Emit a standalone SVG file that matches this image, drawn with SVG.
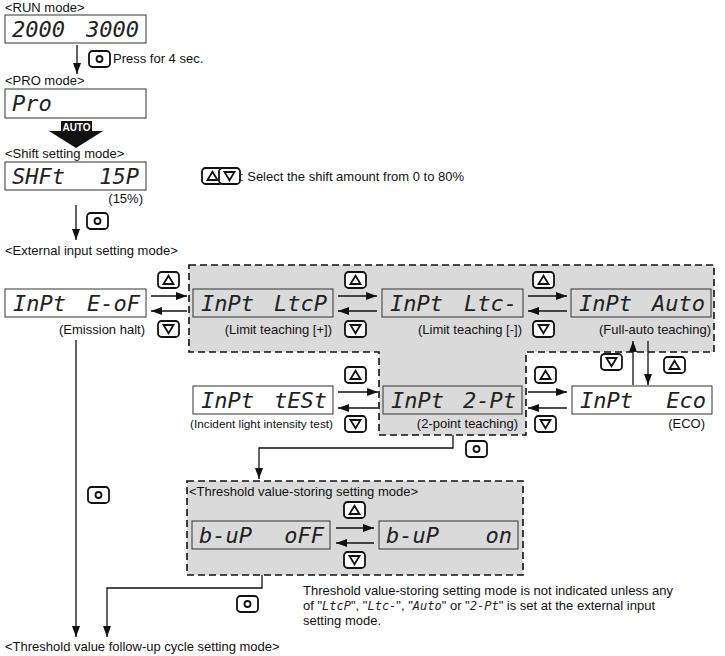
<svg xmlns="http://www.w3.org/2000/svg" width="725" height="656" viewBox="0 0 725 656">
<defs>
<style>
.lbl{font-family:"Liberation Sans",Arial,sans-serif;font-size:13px;fill:#111}
.seg{font-family:"DejaVu Sans Mono",monospace;font-style:italic;font-size:22px;fill:#222}
.segs{font-family:"DejaVu Sans Mono",monospace;font-style:italic;font-size:12px;fill:#222}
.disp{fill:#fff;stroke:#333;stroke-width:1}
.dispg{fill:#dadada;stroke:#333;stroke-width:1}
.region{fill:#dadada;stroke:#111;stroke-width:1.6;stroke-dasharray:7 4}
.ln{fill:none;stroke:#111;stroke-width:1.3}
.key{fill:#fff;stroke:#111;stroke-width:1.8}
.sym{fill:none;stroke:#111;stroke-width:1.8}
</style>
<marker id="ah" viewBox="0 0 11 8" refX="11" refY="4" markerWidth="11" markerHeight="8" markerUnits="userSpaceOnUse" orient="auto"><path d="M0,0 L11,4 L0,8 z" fill="#111"/></marker>
<g id="kO"><rect class="key" x="0" y="0" width="21" height="16" rx="3.5"/><circle class="sym" cx="10.5" cy="8" r="3"/></g>
<g id="kU"><rect class="key" x="0" y="0" width="21" height="16" rx="3.5"/><path class="sym" d="M10.5,3.8 L15.5,12 L5.5,12 z"/></g>
<g id="kD"><rect class="key" x="0" y="0" width="21" height="16" rx="3.5"/><path class="sym" d="M5.5,4 L15.5,4 L10.5,12.2 z"/></g>
</defs>
<rect width="725" height="656" fill="#fff"/>

<!-- regions -->
<g id="regions">
<path class="region" d="M189,265 H714 V352 H526 V435 H379 V352 H189 Z"/>
<rect class="region" x="187" y="481" width="336" height="94"/>
</g>

<!-- mode labels -->
<g id="labels">
<text class="lbl" x="5" y="12">&lt;RUN mode&gt;</text>
<text class="lbl" x="5" y="85">&lt;PRO mode&gt;</text>
<text class="lbl" x="5" y="158">&lt;Shift setting mode&gt;</text>
<text class="lbl" x="5" y="255">&lt;External input setting mode&gt;</text>
<text class="lbl" x="189" y="496">&lt;Threshold value-storing setting mode&gt;</text>
<text class="lbl" x="5" y="651">&lt;Threshold value follow-up cycle setting mode&gt;</text>
<text class="lbl" x="113" y="63">Press for 4 sec.</text>
<text class="lbl" x="240" y="181">: Select the shift amount from 0 to 80%</text>
<text class="lbl" x="303" y="595">Threshold value-storing setting mode is not indicated unless any</text>
<text class="lbl" x="303" y="610">of "<tspan class="segs">LtcP</tspan>", "<tspan class="segs">Ltc-</tspan>", "<tspan class="segs">Auto</tspan>" or "<tspan class="segs">2-Pt</tspan>" is set at the external input</text>
<text class="lbl" x="303" y="625">setting mode.</text>
</g>

<!-- nodes -->
<g id="run">
<rect class="disp" x="5" y="15" width="141" height="28"/>
<text class="seg" y="37"><tspan x="12">2000 </tspan><tspan x="139" text-anchor="end">3000</tspan></text>
</g>
<g id="pro">
<rect class="disp" x="5" y="89" width="141" height="29"/>
<text class="seg" x="12" y="111">Pro</text>
</g>
<g id="shift">
<rect class="disp" x="5" y="162" width="141" height="28"/>
<text class="seg" y="184"><tspan x="12">SHFt </tspan><tspan x="139" text-anchor="end">15P</tspan></text>
<text class="lbl" x="143" y="203" text-anchor="end">(15%)</text>
</g>
<g id="eof">
<rect class="disp" x="5" y="289" width="141" height="28"/>
<text class="seg" y="311"><tspan x="13">InPt </tspan><tspan x="140" text-anchor="end">E-oF</tspan></text>
<text class="lbl" x="145" y="334" text-anchor="end">(Emission halt)</text>
</g>
<g id="ltcp">
<rect class="dispg" x="193" y="289" width="140" height="28"/>
<text class="seg" y="311"><tspan x="201">InPt </tspan><tspan x="327" text-anchor="end">LtcP</tspan></text>
<text class="lbl" x="332" y="334" text-anchor="end">(Limit teaching [+])</text>
</g>
<g id="ltcm">
<rect class="dispg" x="382" y="289" width="141" height="28"/>
<text class="seg" y="311"><tspan x="390">InPt </tspan><tspan x="517" text-anchor="end">Ltc-</tspan></text>
<text class="lbl" x="522" y="334" text-anchor="end">(Limit teaching [-])</text>
</g>
<g id="auto">
<rect class="dispg" x="571" y="289" width="140" height="28"/>
<text class="seg" y="311"><tspan x="579">InPt </tspan><tspan x="705" text-anchor="end">Auto</tspan></text>
<text class="lbl" x="711" y="334" text-anchor="end">(Full-auto teaching)</text>
</g>
<g id="test">
<rect class="disp" x="193" y="386" width="140" height="28"/>
<text class="seg" y="408"><tspan x="201">InPt </tspan><tspan x="327" text-anchor="end">tESt</tspan></text>
<text class="lbl" x="333" y="428" text-anchor="end" style="font-size:11.8px">(Incident light intensity test)</text>
</g>
<g id="twopt">
<rect class="dispg" x="383" y="386" width="139" height="28"/>
<text class="seg" y="408"><tspan x="391">InPt </tspan><tspan x="516" text-anchor="end">2-Pt</tspan></text>
<text class="lbl" x="518" y="428" text-anchor="end">(2-point teaching)</text>
</g>
<g id="eco">
<rect class="disp" x="572" y="386" width="140" height="28"/>
<text class="seg" y="408"><tspan x="580">InPt </tspan><tspan x="706" text-anchor="end">Eco</tspan></text>
<text class="lbl" x="705" y="428" text-anchor="end">(ECO)</text>
</g>
<g id="bupoff">
<rect class="dispg" x="192" y="521" width="138" height="28"/>
<text class="seg" y="543"><tspan x="199">b-uP </tspan><tspan x="324" text-anchor="end">oFF</tspan></text>
</g>
<g id="bupon">
<rect class="dispg" x="379" y="521" width="139" height="28"/>
<text class="seg" y="543"><tspan x="386">b-uP </tspan><tspan x="512" text-anchor="end">on</tspan></text>
</g>

<!-- connectors -->
<g id="connectors">
<path class="ln" d="M77,45 V74" marker-end="url(#ah)"/>
<path d="M61,121 H92 V131 H103 L76,148 L49,131 H61 Z" fill="#111"/>
<text x="76.5" y="131" text-anchor="middle" style="font-family:'Liberation Sans',Arial,sans-serif;font-size:10px;font-weight:bold;fill:#fff">AUTO</text>
<path class="ln" d="M76,205 V240" marker-end="url(#ah)"/>
<!-- row 1 -->
<path class="ln" d="M151,296 H187" marker-end="url(#ah)"/>
<path class="ln" d="M187,311 H151" marker-end="url(#ah)"/>
<path class="ln" d="M338,296 H377" marker-end="url(#ah)"/>
<path class="ln" d="M377,311 H338" marker-end="url(#ah)"/>
<path class="ln" d="M528,296 H567" marker-end="url(#ah)"/>
<path class="ln" d="M567,311 H528" marker-end="url(#ah)"/>
<!-- auto/eco -->
<path class="ln" d="M633,385 V341" marker-end="url(#ah)"/>
<path class="ln" d="M648,341 V385" marker-end="url(#ah)"/>
<!-- row 2 -->
<path class="ln" d="M338,392 H378" marker-end="url(#ah)"/>
<path class="ln" d="M378,408 H338" marker-end="url(#ah)"/>
<path class="ln" d="M528,392 H567" marker-end="url(#ah)"/>
<path class="ln" d="M567,408 H528" marker-end="url(#ah)"/>
<!-- to threshold storing -->
<path class="ln" d="M453,435 V448 H259 V479" marker-end="url(#ah)"/>
<!-- b-uP -->
<path class="ln" d="M336,528 H374" marker-end="url(#ah)"/>
<path class="ln" d="M374,543 H336" marker-end="url(#ah)"/>
<!-- exits -->
<path class="ln" d="M76,340 V637" marker-end="url(#ah)"/>
<path class="ln" d="M262,575 V588 H107 V637" marker-end="url(#ah)"/>
</g>

<!-- keys -->
<g id="keys">
<use href="#kO" x="89" y="51"/>
<use href="#kU" x="202" y="168"/>
<use href="#kD" x="219" y="168"/>
<use href="#kO" x="87" y="213"/>
<use href="#kU" x="158" y="272"/>
<use href="#kD" x="158" y="321"/>
<use href="#kU" x="345" y="272"/>
<use href="#kD" x="345" y="321"/>
<use href="#kU" x="533" y="272"/>
<use href="#kD" x="533" y="321"/>
<use href="#kD" x="601" y="354"/>
<use href="#kU" x="664" y="357"/>
<use href="#kU" x="345" y="367"/>
<use href="#kD" x="345" y="416"/>
<use href="#kU" x="535" y="367"/>
<use href="#kD" x="535" y="416"/>
<use href="#kO" x="466" y="441"/>
<use href="#kU" x="344" y="502"/>
<use href="#kD" x="344" y="552"/>
<use href="#kO" x="88" y="487"/>
<use href="#kO" x="237" y="596"/>
</g>
</svg>
